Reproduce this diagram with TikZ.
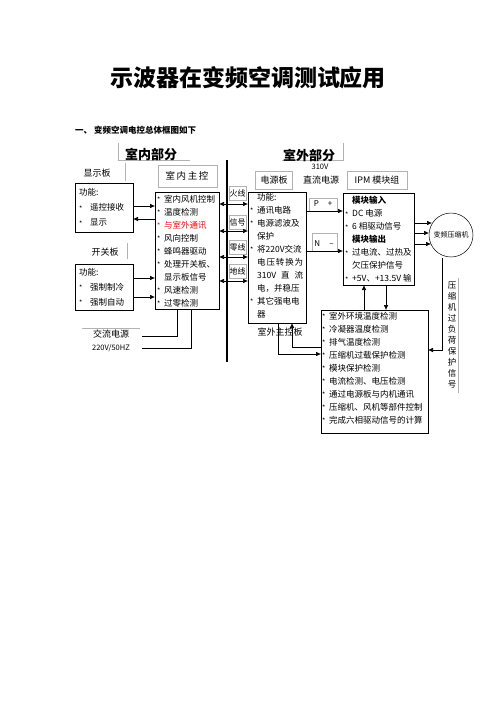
\documentclass[tikz,border=0pt]{standalone}
\usepackage{fontspec}
\setmainfont{Noto Sans CJK SC}
\usetikzlibrary{arrows.meta}
\pgfdeclarelayer{edgelayer}
\pgfdeclarelayer{nodelayer}
\pgfsetlayers{edgelayer,nodelayer,main}
\tikzstyle{none}=[inner sep=0pt]
\tikzstyle{txt}=[inner sep=0pt,font=\fontsize{9}{9}\selectfont]
\tikzstyle{items}=[inner sep=0pt,anchor=north west,align=left,font=\fontsize{8.5}{13}\selectfont]
\tikzstyle{motor}=[circle,draw=black,line width=0.5pt,minimum size=44pt,inner sep=0pt,font=\fontsize{7}{7}\selectfont]
\tikzstyle{simple}=[-,draw=black,line width=0.6pt]
\tikzstyle{ghost}=[-,draw=black!30,line width=0.5pt]
\tikzstyle{bus}=[-,draw=black,line width=2.4pt]
\tikzstyle{transition}=[-{Latex[length=5pt,width=4.5pt]},draw=black,line width=0.6pt]
\tikzstyle{twoway}=[{Latex[length=5pt,width=4.5pt]}-{Latex[length=5pt,width=4.5pt]},draw=black,line width=0.6pt]
\newcommand{\bul}{\makebox[7pt][l]{\raisebox{-0.5pt}{\fontsize{7}{7}\selectfont*}}}
\newcommand{\dbul}{\makebox[11pt][l]{\raisebox{-0.5pt}{\fontsize{7}{7}\selectfont*}}}

\begin{document}
\begin{tikzpicture}[x=1pt,y=-1pt]
	\useasboundingbox (0,0) rectangle (496,702);
	\begin{pgfonlayer}{nodelayer}
		% headings
		\node [style=none, font=\fontsize{23}{23}\selectfont\bfseries] (title) at (248, 78) {示波器在变频空调测试应用};
		\node [style=none, anchor=west, font=\fontsize{8.5}{8.5}\selectfont\bfseries] (intro) at (75, 130) {一、 变频空调电控总体框图如下};
		\node [style=none, font=\fontsize{13}{13}\selectfont\bfseries] (indoor) at (151, 154) {室内部分};
		\node [style=none, font=\fontsize{13}{13}\selectfont\bfseries] (outdoor) at (309, 155) {室外部分};
		% indoor side
		\node [style=txt] (dispname) at (97, 173) {显示板};
		\node [style=txt, font=\fontsize{9.5}{9.5}\selectfont] (mainname) at (187, 176) {室\,内\,主\,控};
		\node [style=txt] (swname) at (105, 252) {开关板};
		\node [style=none] (d0) at (75, 183) {};
		\node [style=none] (d1) at (133, 232) {};
		\node [style=items, font=\fontsize{8.5}{15}\selectfont] (disptext) at (79, 188.5) {功能:\\\dbul 遥控接收\\\dbul 显示};
		\node [style=none] (s0) at (75, 264) {};
		\node [style=none] (s1) at (133, 310) {};
		\node [style=items, font=\fontsize{8.5}{15}\selectfont] (swtext) at (79, 268) {功能:\\\dbul 强制制冷\\\dbul 强制自动};
		\node [style=none] (m0) at (155, 192) {};
		\node [style=none] (m1) at (219, 309) {};
		\node [style=items] (maintext) at (157, 195) {\bul 室内风机控制\\\bul 温度检测\\\textcolor{red}{\bul 与室外通讯}\\\bul 风向控制\\\bul 蜂鸣器驱动\\\bul 处理开关板、\\\hspace*{7pt}显示板信号\\\bul 风速检测\\\bul 过零检测};
		\node [style=txt] (acname) at (111, 334) {交流电源};
		\node [style=txt, font=\fontsize{7.5}{7.5}\selectfont] (acvalue) at (111, 348) {220V/50HZ};
		% wires across the bus
		\node [style=txt, font=\fontsize{8}{8}\selectfont] (live) at (237.5, 193) {火线};
		\node [style=txt, font=\fontsize{8}{8}\selectfont] (signal) at (237.5, 222) {信号};
		\node [style=txt, font=\fontsize{8}{8}\selectfont] (neutral) at (237.5, 247) {零线};
		\node [style=txt, font=\fontsize{8}{8}\selectfont] (earth) at (237.5, 271) {地线};
		% outdoor side
		\node [style=txt] (pwrname) at (274, 180) {电源板};
		\node [style=txt, font=\fontsize{7.5}{7.5}\selectfont] (dcvolt) at (320, 167) {310V};
		\node [style=txt] (dcname) at (321, 180) {直流电源};
		\node [style=txt] (ipmname) at (377, 180) {IPM\ 模块组};
		\node [style=none] (p0) at (248, 192) {};
		\node [style=none] (p1) at (306, 323) {};
		\node [style=items] (pwrtext) at (250, 193) {\hspace*{7pt}功能:\\\bul 通讯电路\\\bul 电源滤波及\\\hspace*{7pt}保护\\\bul 将220V交流\\\hspace*{7pt}\makebox[46pt][s]{电\hfill 压\hfill 转\hfill 换\hfill 为}\\\hspace*{7pt}\makebox[46pt][s]{310V\hfill 直\hfill 流}\\\hspace*{7pt}电，并稳压\\\bul 其它强电电\\\hspace*{7pt}器};
		\node [style=txt] (ctrlname) at (280, 332) {室外主控板};
		\node [style=txt, font=\fontsize{8}{8}\selectfont] (plus) at (323, 204) {P\hspace{9pt}+};
		\node [style=txt, font=\fontsize{8}{8}\selectfont] (minus) at (324, 244) {N\hspace{9pt}--};
		\node [style=none] (i0) at (343, 193) {};
		\node [style=none] (i1) at (414, 285) {};
		\node [style=items] (ipmtext) at (345, 196) {\hspace*{7pt}\textbf{模块输入}\\\bul DC 电源\\\bul 6 相驱动信号\\\hspace*{7pt}\textbf{模块输出}\\\bul 过电流、过热及\\\hspace*{7pt}欠压保护信号\\\bul +5V、+13.5V 输};
		\node [style=motor] (comp) at (451, 235) {变频压缩机};
		\node [style=none] (o0) at (321, 310) {};
		\node [style=none] (o1) at (428, 433) {};
		\node [style=items] (ctrltext) at (322, 312) {\bul 室外环境温度检测\\\bul 冷凝器温度检测\\\bul 排气温度检测\\\bul 压缩机过载保护检测\\\bul 模块保护检测\\\bul 电流检测、电压检测\\\bul 通过电源板与内机通讯\\\bul 压缩机、风机等部件控制\\\bul 完成六相驱动信号的计算};
		\node [style=txt, align=center, font=\fontsize{8.5}{11}\selectfont, anchor=north] (overload) at (452, 282) {压\\缩\\机\\过\\负\\荷\\保\\护\\信\\号};
		% connector ends
		\node [style=none] (b0) at (227, 160) {};
		\node [style=none] (b1) at (227, 362) {};
		\node [style=none] (da0) at (133, 206) {};
		\node [style=none] (da1) at (155, 206) {};
		\node [style=none] (db0) at (155, 219) {};
		\node [style=none] (db1) at (133, 219) {};
		\node [style=none] (sa0) at (133, 278) {};
		\node [style=none] (sa1) at (155, 278) {};
		\node [style=none] (sb0) at (133, 297) {};
		\node [style=none] (sb1) at (155, 297) {};
		\node [style=none] (ac0) at (142, 336) {};
		\node [style=none] (ac1) at (177, 336) {};
		\node [style=none] (ac2) at (177, 309) {};
		\node [style=none] (ac3) at (142, 348) {};
		\node [style=none] (ac4) at (191, 348) {};
		\node [style=none] (ac5) at (191, 309) {};
		\node [style=none] (w1a) at (219, 204) {};
		\node [style=none] (w1b) at (248, 204) {};
		\node [style=none] (w2a) at (219, 231) {};
		\node [style=none] (w2b) at (248, 231) {};
		\node [style=none] (w3a) at (219, 257) {};
		\node [style=none] (w3b) at (248, 257) {};
		\node [style=none] (w4a) at (219, 281) {};
		\node [style=none] (w4b) at (248, 281) {};
		\node [style=none] (pp0) at (306, 211) {};
		\node [style=none] (pp1) at (343, 211) {};
		\node [style=none] (nn0) at (306, 251) {};
		\node [style=none] (nn1) at (343, 251) {};
		\node [style=none] (c1a) at (414, 223) {};
		\node [style=none] (c1b) at (432, 223) {};
		\node [style=none] (c2a) at (414, 233) {};
		\node [style=none] (c2b) at (429, 233) {};
		\node [style=none] (c3a) at (414, 244) {};
		\node [style=none] (c3b) at (431, 244) {};
		\node [style=none] (ov0) at (442, 258) {};
		\node [style=none] (ov1) at (442, 350) {};
		\node [style=none] (ov2) at (428, 350) {};
		\node [style=none] (io0) at (364, 310) {};
		\node [style=none] (io1) at (364, 285) {};
		\node [style=none] (io2) at (386, 285) {};
		\node [style=none] (io3) at (386, 310) {};
		\node [style=none] (po0) at (278, 323) {};
		\node [style=none] (po1) at (278, 354) {};
		\node [style=none] (po2) at (321, 354) {};
		\node [style=none] (po3) at (321, 347) {};
		\node [style=none] (po4) at (292, 347) {};
		\node [style=none] (po5) at (292, 323) {};
	\end{pgfonlayer}
	\begin{pgfonlayer}{edgelayer}
		% faint text frames
		\draw [style=ghost] (118, 143) -- (118, 160) -- (190, 160);
		\draw [style=ghost] (282, 160) -- (343, 160) -- (343, 143);
		\draw [style=ghost] (125, 163) -- (125, 181);
		\draw [style=ghost] (127, 243) -- (127, 259);
		\draw [style=ghost] (158, 165) rectangle (217, 187);
		\draw [style=ghost] (255, 171) rectangle (292, 189);
		\draw [style=ghost] (347, 171) rectangle (407, 189);
		\draw [style=ghost] (309, 198) rectangle (337, 211);
		\draw [style=ghost] (312, 233) rectangle (337, 251);
		\draw [style=ghost] (229, 186) rectangle (246, 200);
		\draw [style=ghost] (229, 215) rectangle (246, 229);
		\draw [style=ghost] (229, 240) rectangle (246, 254);
		\draw [style=ghost] (229, 264) rectangle (246, 278);
		\draw [style=ghost] (82, 328) -- (140, 328);
		\draw [style=ghost] (458, 278) -- (458, 393);
		% boxes
		\draw [style=simple] (d0.center) rectangle (d1.center);
		\draw [style=simple] (s0.center) rectangle (s1.center);
		\draw [style=simple] (m0.center) rectangle (m1.center);
		\draw [style=simple] (p0.center) rectangle (p1.center);
		\draw [style=simple] (i0.center) rectangle (i1.center);
		\draw [style=simple] (o0.center) rectangle (o1.center);
		% connectors
		\draw [style=transition] (da0.center) to (da1.center);
		\draw [style=transition] (db0.center) to (db1.center);
		\draw [style=transition] (sa0.center) to (sa1.center);
		\draw [style=transition] (sb0.center) to (sb1.center);
		\draw [style=simple] (ac0.center) to (ac1.center) to (ac2.center);
		\draw [style=simple] (ac3.center) to (ac4.center) to (ac5.center);
		\draw [style=twoway] (w1a.center) to (w1b.center);
		\draw [style=twoway] (w2a.center) to (w2b.center);
		\draw [style=twoway] (w3a.center) to (w3b.center);
		\draw [style=twoway] (w4a.center) to (w4b.center);
		\draw [style=bus] (b0.center) to (b1.center);
		\draw [style=transition] (pp0.center) to (pp1.center);
		\draw [style=transition] (nn0.center) to (nn1.center);
		\draw [style=transition] (c1a.center) to (c1b.center);
		\draw [style=transition] (c2a.center) to (c2b.center);
		\draw [style=transition] (c3a.center) to (c3b.center);
		\draw [style=transition] (ov0.center) to (ov1.center) to (ov2.center);
		\draw [style=transition] (io0.center) to (io1.center);
		\draw [style=transition] (io2.center) to (io3.center);
		\draw [style=transition] (po0.center) to (po1.center) to (po2.center);
		\draw [style=transition] (po3.center) to (po4.center) to (po5.center);
	\end{pgfonlayer}
\end{tikzpicture}
\end{document}
